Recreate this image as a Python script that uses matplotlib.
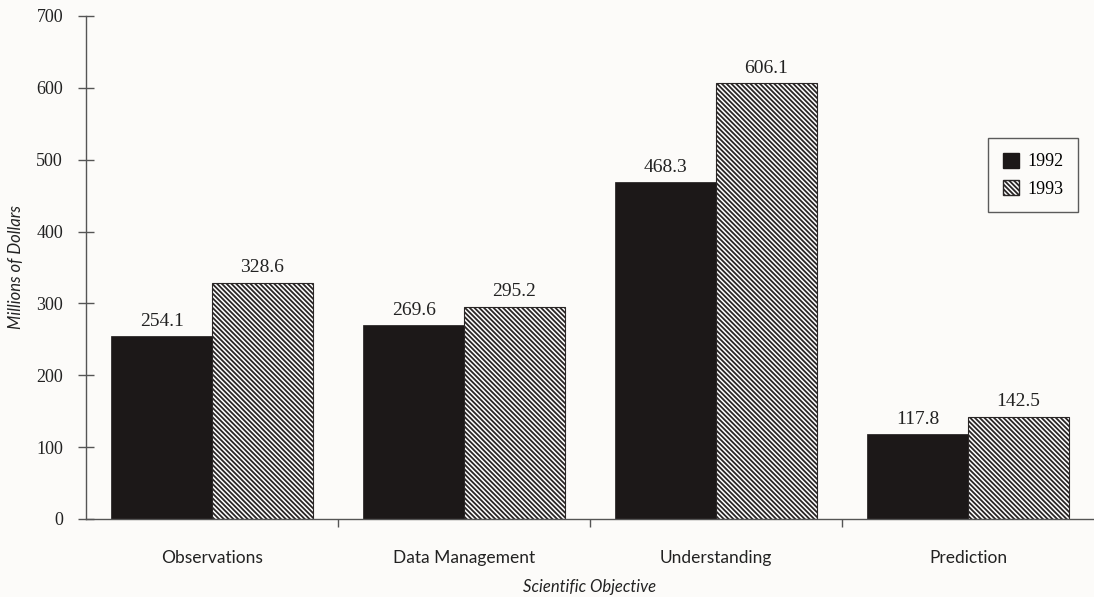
import numpy as np
import matplotlib
matplotlib.use("Agg")
import matplotlib.pyplot as plt
from matplotlib.patches import Patch
from matplotlib.ticker import FixedLocator

# Funding by scientific objective, millions of dollars
objectives = ["Observations", "Data Management", "Understanding", "Prediction"]
years = ["1992", "1993"]
funds_1992 = [254.1, 269.6, 468.3, 117.8]
funds_1993 = [328.6, 295.2, 606.1, 142.5]
y_ticks = [0, 100, 200, 300, 400, 500, 600, 700]

serif = ["Liberation Serif", "DejaVu Serif"]
sans = ["Lato", "DejaVu Sans"]

plt.rcParams["hatch.linewidth"] = 1.3

bg = "#fcfbf9"
ink = "#1c1818"
axis_col = "#555555"
hatch = "\\" * 7

fig = plt.figure(figsize=(10.94, 5.97), dpi=100, facecolor=bg)
ax = fig.add_axes([0.0786, 0.1307, 0.9214, 0.8425])
ax.set_facecolor(bg)

x = np.arange(len(objectives))
w = 0.4
b1 = ax.bar(x + 0.3, funds_1992, width=w, color=ink, edgecolor=ink, linewidth=0.5)
b2 = ax.bar(x + 0.7, funds_1993, width=w, color="white", edgecolor="#2a2626",
            linewidth=0.8, hatch=hatch)

for bars, vals in ((b1, funds_1992), (b2, funds_1993)):
    for r, v in zip(bars, vals):
        ax.text(r.get_x() + r.get_width() / 2, v + 9, f"{v:.1f}",
                ha="center", va="bottom", fontsize=14, family=serif, color="#222222")

ax.set_xlim(0, len(objectives))
ax.set_ylim(0, 700)

for s in ("top", "right"):
    ax.spines[s].set_visible(False)
for s in ("left", "bottom"):
    ax.spines[s].set_color(axis_col)
    ax.spines[s].set_linewidth(1.0)

ax.set_yticks(y_ticks)
ax.set_yticklabels([str(t) for t in y_ticks], family=serif, fontsize=13, color="#222222")
ax.tick_params(axis="y", direction="inout", length=11, width=1.0, color=axis_col, pad=11)

# category names sit mid-group, dividers between groups
ax.set_xticks(x + 0.5)
ax.set_xticklabels(objectives, family=sans, fontsize=12.5, color="#222222")
ax.tick_params(axis="x", which="major", length=0, pad=22)
ax.xaxis.set_minor_locator(FixedLocator(list(x[1:])))
ax.tick_params(axis="x", which="minor", direction="out", length=6, width=1.0, color=axis_col)

ax.set_ylabel("Millions of Dollars", family=sans, style="italic", fontsize=12,
              color="#222222", labelpad=9)
ax.set_xlabel("Scientific Objective", family=sans, style="italic", fontsize=12,
              color="#222222", labelpad=10)

handles = [Patch(facecolor=ink, edgecolor=ink, label=years[0]),
           Patch(facecolor="white", edgecolor="#2a2626", hatch=hatch, label=years[1])]
leg = ax.legend(handles=handles, loc="upper left", bbox_to_anchor=(0.895, 0.757),
                prop={"family": serif, "size": 13}, frameon=True, fancybox=False,
                handlelength=0.9, handleheight=0.9, labelspacing=0.55,
                borderpad=0.8, handletextpad=0.5, borderaxespad=0)
leg.get_frame().set_edgecolor("#333333")
leg.get_frame().set_linewidth(1.0)
leg.get_frame().set_facecolor(bg)

fig.savefig("out.png", dpi=100, facecolor=bg)
